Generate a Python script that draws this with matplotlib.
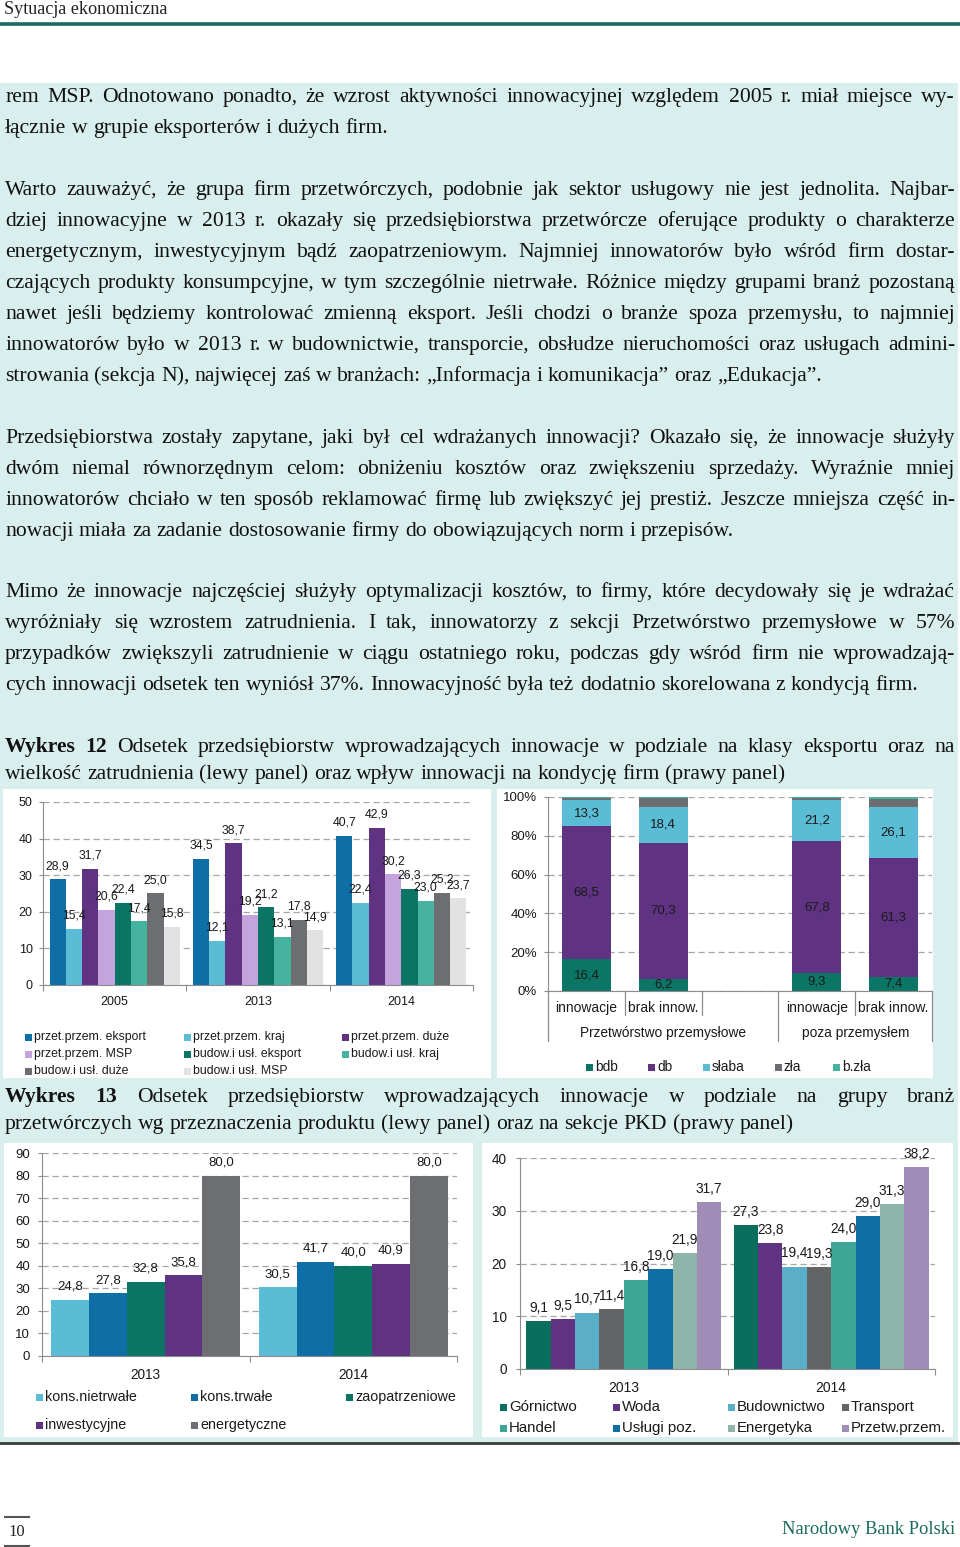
import matplotlib
matplotlib.use('Agg')
import matplotlib.pyplot as plt
from matplotlib.patches import Rectangle
from matplotlib.lines import Line2D
import numpy as np

# ---- Wykres 12, lewy panel ----
years12 = ['2005', '2013', '2014']
series12 = ['przet.przem. eksport', 'przet.przem. kraj', 'przet.przem. duże', 'przet.przem. MSP',
            'budow.i usł. eksport', 'budow.i usł. kraj', 'budow.i usł. duże', 'budow.i usł. MSP']
values12 = [
    [28.9, 34.5, 40.7],
    [15.4, 12.1, 22.4],
    [31.7, 38.7, 42.9],
    [20.6, 19.2, 30.2],
    [22.4, 21.2, 26.3],
    [17.4, 13.1, 23.0],
    [25.0, 17.8, 25.2],
    [15.8, 14.9, 23.7],
]
colors12 = ['#0e6ea6', '#5bbcd6', '#5f3282', '#c5a3dc', '#0a7565', '#46b3a0', '#6d6e71', '#e2e2e2']

# ---- Wykres 12, prawy panel ----
cond_cats = ['innowacje', 'brak innow.', 'innowacje', 'brak innow.']
cond_groups = ['Przetwórstwo przemysłowe', 'poza przemysłem']
cond_names = ['bdb', 'db', 'słaba', 'zła', 'b.zła']
cond_bdb = [16.4, 6.2, 9.3, 7.4]
cond_db = [68.5, 70.3, 67.8, 61.3]
cond_slaba = [13.3, 18.4, 21.2, 26.1]
cond_zla = [1.5, 4.5, 1.4, 4.4]
cond_bzla = [0.3, 0.6, 0.3, 0.8]
cond_colors = ['#0c7666', '#5f3282', '#5bbcd6', '#6d6e71', '#46b3a0']

# ---- Wykres 13, lewy panel ----
years13 = ['2013', '2014']
prod_names = ['kons.nietrwałe', 'kons.trwałe', 'zaopatrzeniowe', 'inwestycyjne', 'energetyczne']
prod_vals = [[24.8, 30.5], [27.8, 41.7], [32.8, 40.0], [35.8, 40.9], [80.0, 80.0]]
prod_colors = ['#5bbcd6', '#0e6ea6', '#0a7565', '#5f3282', '#6d6e71']

# ---- Wykres 13, prawy panel ----
sect_names = ['Górnictwo', 'Woda', 'Budownictwo', 'Transport', 'Handel', 'Usługi poz.',
              'Energetyka', 'Przetw.przem.']
sect_vals = [[9.1, 27.3], [9.5, 23.8], [10.7, 19.4], [11.4, 19.3], [16.8, 24.0],
             [19.0, 29.0], [21.9, 31.3], [31.7, 38.2]]
sect_colors = ['#0a6e5f', '#5f3282', '#5aaec8', '#636466', '#3fa596', '#0e6ea6', '#8fb5aa', '#a08db7']

# ---- tekst ----
paragraphs = [
    (97, ['rem MSP. Odnotowano ponadto, że wzrost aktywności innowacyjnej względem 2005 r. miał miejsce wy-',
          'łącznie w grupie eksporterów i dużych firm.']),
    (190, ['Warto zauważyć, że grupa firm przetwórczych, podobnie jak sektor usługowy nie jest jednolita. Najbar-',
           'dziej innowacyjne w 2013 r. okazały się przedsiębiorstwa przetwórcze oferujące produkty o charakterze',
           'energetycznym, inwestycyjnym bądź zaopatrzeniowym. Najmniej innowatorów było wśród firm dostar-',
           'czających produkty konsumpcyjne, w tym szczególnie nietrwałe. Różnice między grupami branż pozostaną',
           'nawet jeśli będziemy kontrolować zmienną eksport. Jeśli chodzi o branże spoza przemysłu, to najmniej',
           'innowatorów było w 2013 r. w budownictwie, transporcie, obsłudze nieruchomości oraz usługach admini-',
           'strowania (sekcja N), najwięcej zaś w branżach: „Informacja i komunikacja” oraz „Edukacja”.']),
    (438, ['Przedsiębiorstwa zostały zapytane, jaki był cel wdrażanych innowacji? Okazało się, że innowacje służyły',
           'dwóm niemal równorzędnym celom: obniżeniu kosztów oraz zwiększeniu sprzedaży. Wyraźnie mniej',
           'innowatorów chciało w ten sposób reklamować firmę lub zwiększyć jej prestiż. Jeszcze mniejsza część in-',
           'nowacji miała za zadanie dostosowanie firmy do obowiązujących norm i przepisów.']),
    (592, ['Mimo że innowacje najczęściej służyły optymalizacji kosztów, to firmy, które decydowały się je wdrażać',
           'wyróżniały się wzrostem zatrudnienia. I tak, innowatorzy z sekcji Przetwórstwo przemysłowe w 57%',
           'przypadków zwiększyli zatrudnienie w ciągu ostatniego roku, podczas gdy wśród firm nie wprowadzają-',
           'cych innowacji odsetek ten wyniósł 37%. Innowacyjność była też dodatnio skorelowana z kondycją firm.']),
]
caption12 = ['Wykres 12 Odsetek przedsiębiorstw wprowadzających innowacje w podziale na klasy eksportu oraz na',
             'wielkość zatrudnienia (lewy panel) oraz wpływ innowacji na kondycję firm (prawy panel)']
caption13 = ['Wykres 13 Odsetek przedsiębiorstw wprowadzających innowacje w podziale na grupy branż',
             'przetwórczych wg przeznaczenia produktu (lewy panel) oraz na sekcje PKD (prawy panel)']

SERIF = 'Liberation Serif'
SANS = 'Liberation Sans'
TXT = '#1a1a1a'
GRID = '#a6a6a6'
AXC = '#8c8c8c'
BODY = 15.6

W, H = 960, 1547
fig = plt.figure(figsize=(W / 100, H / 100), dpi=100)
renderer = fig.canvas.get_renderer()


def fx(x):
    return x / W


def fy(y):
    return 1 - y / H


def box(x0, y0, x1, y1, color, z=-1):
    fig.add_artist(Rectangle((fx(x0), fy(y1)), (x1 - x0) / W, (y1 - y0) / H,
                             transform=fig.transFigure, facecolor=color, edgecolor='none', zorder=z))


def hline(x0, x1, y, color, lw):
    fig.add_artist(Line2D([fx(x0), fx(x1)], [fy(y), fy(y)], transform=fig.transFigure,
                          color=color, lw=lw, zorder=2))


def add_ax(x0, y0, x1, y1):
    return fig.add_axes([fx(x0), fy(y1), (x1 - x0) / W, (y1 - y0) / H])


def text_line(y, line, justify, bold_words=0, size=BODY, x0=5, x1=955):
    words = line.split(' ')
    objs = [fig.text(0, fy(y + 5), w, fontsize=size, family=SERIF, color='#111111',
                     fontweight='bold' if i < bold_words else 'normal', va='baseline')
            for i, w in enumerate(words)]
    while True:
        widths = [t.get_window_extent(renderer).width for t in objs]
        space = size * 0.25 * 100 / 72
        if justify and len(words) > 1:
            gap = (x1 - x0 - sum(widths)) / (len(words) - 1)
        else:
            gap = space
        if gap >= 0.6 * space:
            break
        size -= 0.2
        for t in objs:
            t.set_fontsize(size)
    x = x0
    for t, wd in zip(objs, widths):
        t.set_x(fx(x))
        x += wd + gap


def legend_item(x, y, color, label, fs):
    box(x, y - 3.5, x + 7, y + 3.5, color, z=1)
    fig.text(fx(x + 9), fy(y), label, fontsize=fs, family=SANS, va='center', color=TXT)


def fmt(v):
    return f'{v:.1f}'.replace('.', ',')


def style(ax, ymax, step, fs, pad, pct=False):
    ax.set_ylim(0, ymax)
    ticks = np.arange(0, ymax + 0.1, step)
    ax.set_yticks(ticks)
    if pct:
        ax.set_yticklabels([f'{int(t)}%' for t in ticks])
    ax.yaxis.grid(True, ls=(0, (5, 3)), color=GRID, lw=0.9)
    ax.set_axisbelow(True)
    ax.set_facecolor('none')
    for s in ['top', 'right']:
        ax.spines[s].set_visible(False)
    for s in ['left', 'bottom']:
        ax.spines[s].set_color(AXC)
    ax.tick_params(axis='y', length=3, color=AXC, labelsize=fs, pad=pad, labelcolor=TXT)
    for t in ax.get_yticklabels():
        t.set_family(SANS)


def group_xaxis(ax, labels, fs, pad):
    n = len(labels)
    ax.set_xlim(-0.5, n - 0.5)
    ax.set_xticks(np.arange(-0.5, n, 1.0))
    ax.set_xticklabels([])
    ax.tick_params(axis='x', which='major', length=4, color=AXC)
    ax.set_xticks(np.arange(n), minor=True)
    ax.set_xticklabels(labels, minor=True, family=SANS)
    ax.tick_params(axis='x', which='minor', length=0, pad=pad, labelsize=fs, labelcolor=TXT)


def grouped_bars(ax, vals, colors, bw, fs):
    k = len(vals)
    x = np.arange(len(vals[0]))
    for i, (v, c) in enumerate(zip(vals, colors)):
        pos = x + (i - (k - 1) / 2) * bw
        ax.bar(pos, v, bw, color=c, zorder=2)
        for p, val in zip(pos, v):
            ax.annotate(fmt(val), (p, val), xytext=(0, 9.5), textcoords='offset points',
                        ha='center', va='center', fontsize=fs, family=SANS, color=TXT)


# ---- strona ----
fig.text(fx(4), fy(10), 'Sytuacja ekonomiczna', fontsize=13.1, family=SERIF, va='center', color='#222222')
hline(0, 960, 23.5, '#1b6b5d', 2.6)
box(0, 83, 958, 1443, '#d9efee', z=-2)
hline(0, 958, 1443, '#3a3a3a', 2)

for y0, lines in paragraphs:
    for i, line in enumerate(lines):
        text_line(y0 + 31 * i, line, justify=(i < len(lines) - 1))

for y0, cap in [(747, caption12), (1097, caption13)]:
    text_line(y0, cap[0], True, bold_words=2)
    text_line(y0 + 27, cap[1], False)

# białe tła wykresów
box(3, 789, 491, 1078, 'white')
box(497, 789, 933, 1078, 'white')
box(4, 1143, 473, 1437, 'white')
box(482, 1143, 953, 1437, 'white')

# ---- Wykres 12 lewy ----
ax1 = add_ax(43, 802, 473, 985)
grouped_bars(ax1, values12, colors12, 0.1136, 8.8)
style(ax1, 50, 10, 9, 4.5)
group_xaxis(ax1, years12, 9, 8)
lpos1 = [[25, 1037], [184, 1037], [342, 1037], [25, 1054], [184, 1054], [342, 1054], [25, 1071], [184, 1071]]
for (lx, ly), name, c in zip(lpos1, series12, colors12):
    legend_item(lx, ly, c, name, 8.8)

# ---- Wykres 12 prawy ----
ax2 = add_ax(548, 797, 932, 991)
pos2 = np.array([0, 1, 3, 4])
bottom = np.zeros(4)
for name, v, c in zip(cond_names, [cond_bdb, cond_db, cond_slaba, cond_zla, cond_bzla], cond_colors):
    ax2.bar(pos2, v, 0.64, bottom=bottom, color=c, zorder=2)
    if name in ('bdb', 'db', 'słaba'):
        for p, b, val in zip(pos2, bottom, v):
            ax2.text(p, b + val / 2, fmt(val), ha='center', va='center', fontsize=9.5,
                     family=SANS, color=TXT, zorder=3)
    bottom += np.array(v)
style(ax2, 100, 20, 9.5, 5, pct=True)
ax2.set_xlim(-0.5, 4.5)
ax2.set_xticks([])
tr = ax2.get_xaxis_transform()
for xb, long_ in [(-0.5, True), (0.5, False), (1.5, False), (2.5, True), (3.5, False), (4.5, True)]:
    ax2.plot([xb, xb], [0, -0.258 if long_ else -0.125], transform=tr, color=AXC, lw=0.9, clip_on=False)
for p, lab in zip(pos2, cond_cats):
    ax2.text(p, -0.088, lab, transform=tr, ha='center', va='center', fontsize=10, family=SANS, color=TXT)
for gx, lab in zip([1.0, 3.5], cond_groups):
    ax2.text(gx, -0.215, lab, transform=tr, ha='center', va='center', fontsize=9.9, family=SANS, color=TXT)
for lx, name, c in zip([586, 648, 703, 775, 833], cond_names, cond_colors):
    legend_item(lx, 1067, c, name, 9.8)

# ---- Wykres 13 lewy ----
ax3 = add_ax(42, 1153, 457, 1356)
grouped_bars(ax3, prod_vals, prod_colors, 0.182, 9.5)
style(ax3, 90, 10, 9.5, 5.5)
group_xaxis(ax3, years13, 9.8, 8.5)
lpos3 = [[36, 1397], [191, 1397], [346, 1397], [36, 1425], [191, 1425]]
for (lx, ly), name, c in zip(lpos3, prod_names, prod_colors):
    legend_item(lx, ly, c, name, 10.3)

# ---- Wykres 13 prawy ----
ax4 = add_ax(520, 1158, 935, 1369)
grouped_bars(ax4, sect_vals, sect_colors, 0.1175, 9.8)
style(ax4, 40, 10, 9.8, 6.5)
group_xaxis(ax4, years13, 10, 9)
lpos4 = [[500, 1407], [613, 1407], [728, 1407], [842, 1407],
         [500, 1428], [613, 1428], [728, 1428], [842, 1428]]
for (lx, ly), name, c in zip(lpos4, sect_names, sect_colors):
    legend_item(lx, ly, c, name, 10.8)

# ---- stopka ----
hline(5, 29, 1517, '#555555', 1.5)
hline(5, 29, 1546, '#555555', 1.5)
fig.text(fx(17), fy(1532), '10', fontsize=12, family=SERIF, ha='center', va='center', color='#222222')
fig.text(fx(955), fy(1529), 'Narodowy Bank Polski', fontsize=13.3, family=SERIF, ha='right',
         va='center', color='#1b6b5d')

fig.savefig('out.png', dpi=100)
